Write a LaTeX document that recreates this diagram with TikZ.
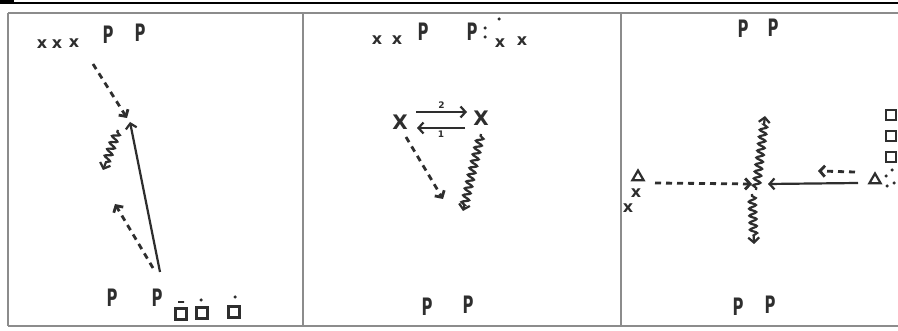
\documentclass[tikz,border=0pt]{standalone}
\usepackage{fontspec}
\setmainfont{DejaVu Sans}
\usetikzlibrary{arrows.meta,decorations.pathmorphing,shapes.geometric}
\definecolor{ink}{HTML}{2E2E2E}
\definecolor{framec}{HTML}{8C8C8C}
\tikzset{
  pl/.style={font=\fontsize{24}{24}\selectfont\bfseries, text=ink, inner sep=0pt, xscale=0.62},
  xm/.style={font=\fontsize{16}{16}\selectfont\bfseries, text=ink, inner sep=0pt},
  bigx/.style={font=\fontsize{20}{20}\selectfont\bfseries, text=ink, inner sep=0pt},
  num/.style={font=\fontsize{9}{9}\selectfont\bfseries, text=ink, inner sep=1pt},
  tri/.style={regular polygon, regular polygon sides=3, draw=ink, line width=2.2pt, minimum size=13pt, inner sep=0pt},
  sq/.style={rectangle, draw=ink, line width=2.2pt, minimum size=11pt, inner sep=0pt},
  dot/.style={circle, fill=ink, minimum size=3.5pt, inner sep=0pt},
  tip/.style={-{Straight Barb[length=5pt,width=11pt]}},
  solidarr/.style={draw=ink, line width=2.2pt, tip},
  dasharr/.style={draw=ink, line width=2.8pt, dash pattern=on 6pt off 5pt, tip},
  wavyarr/.style={draw=ink, line width=2.2pt, tip, decorate,
     decoration={snake, amplitude=3.5pt, segment length=7pt, pre length=2pt, post length=6pt}},
  frameline/.style={draw=framec, line width=1.8pt}
}
\begin{document}
\begin{tikzpicture}[x=1pt,y=-1pt]
\useasboundingbox (0,0) rectangle (898,331);
\fill[white] (0,0) rectangle (898,331);
% top black bar and frame
\draw[line width=2.6pt, black] (0,3) -- (898,3);
\fill[black] (0,0) rectangle (14,4.5);
\draw[frameline] (8,13) -- (898,13);
\draw[frameline] (8,13) -- (8,326);
\draw[frameline] (303,13) -- (303,326);
\draw[frameline] (621,13) -- (621,326);
\draw[frameline] (8,326) -- (898,326);

% ---------- panel 1 ----------
\node[xm] (x1a) at (42,44) {x};
\node[xm] (x1b) at (57,44) {x};
\node[xm] (x1c) at (74,43) {x};
\node[pl] (p1a) at (108,35) {P};
\node[pl] (p1b) at (140,33) {P};
\node[pl] (p1c) at (112,298) {P};
\node[pl] (p1d) at (157,298) {P};
\node[sq] (s1a) at (181,314) {};
\node[sq] (s1b) at (202,313) {};
\node[sq] (s1c) at (234,312) {};
\node[draw=ink, line width=2pt, minimum width=6pt, minimum height=0pt, inner sep=0pt] (d1a) at (181,302) {};
\node[dot] (d1b) at (201,300) {};
\node[dot] (d1c) at (235,297) {};
\coordinate (a1s) at (93,64);
\coordinate (a1e) at (127,118);
\coordinate (b1s) at (160,272);
\coordinate (b1e) at (130,122);
\coordinate (w1s) at (118,130);
\coordinate (w1e) at (103,170);
\coordinate (c1s) at (153,268);
\coordinate (c1e) at (115,204);
\draw[dasharr] (a1s) -- (a1e);
\draw[solidarr] (b1s) -- (b1e);
\draw[wavyarr] (w1s) -- (w1e);
\draw[dasharr] (c1s) -- (c1e);

% ---------- panel 2 ----------
\node[xm] (x2a) at (377,40) {x};
\node[xm] (x2b) at (397,40) {x};
\node[pl] (p2a) at (423,32) {P};
\node[pl] (p2b) at (472,32) {P};
\node[dot] (q2a) at (485,28) {};
\node[dot] (q2b) at (485,37) {};
\node[dot] (q2c) at (499,19) {};
\node[xm] (x2c) at (500,43) {x};
\node[xm] (x2d) at (522,41) {x};
\node[bigx] (X2L) at (400,122) {X};
\node[bigx] (X2R) at (481,118) {X};
\coordinate (t2s) at (416,112);
\coordinate (t2e) at (467,112);
\coordinate (u2s) at (465,128);
\coordinate (u2e) at (417,128);
\draw[solidarr] (t2s) -- node[num, above=1pt] (n2) {2} (t2e);
\draw[solidarr] (u2s) -- node[num, below=1pt] (n1) {1} (u2e);
\coordinate (a2s) at (406,137);
\coordinate (a2e) at (443,199);
\coordinate (w2s) at (481,134);
\coordinate (w2e) at (463,211);
\draw[dasharr] (a2s) -- (a2e);
\draw[wavyarr] (w2s) -- (w2e);
\node[pl] (p2c) at (427,307) {P};
\node[pl] (p2d) at (468,305) {P};

% ---------- panel 3 ----------
\node[pl] (p3a) at (743,29) {P};
\node[pl] (p3b) at (773,28) {P};
\node[pl] (p3c) at (738,307) {P};
\node[pl] (p3d) at (770,305) {P};
\node[tri] (tL) at (638,177) {};
\node[xm] (x3a) at (636,193) {x};
\node[xm] (x3b) at (628,208) {x};
\node[tri] (tR) at (875,180) {};
\node[dot] (r3a) at (886,176) {};
\node[dot] (r3b) at (887,186) {};
\node[dot] (r3c) at (892,170) {};
\node[dot] (r3d) at (894,183) {};
\node[sq, minimum size=10pt] (s3a) at (891,115) {};
\node[sq, minimum size=10pt] (s3b) at (891,136) {};
\node[sq, minimum size=10pt] (s3c) at (891,157) {};
\coordinate (j3) at (757,185);
\coordinate (h3s) at (655,183);
\coordinate (h3e) at (752,184);
\coordinate (g3s) at (858,183);
\coordinate (g3e) at (768,184);
\coordinate (k3s) at (855,172);
\coordinate (k3e) at (818,171);
\coordinate (v3s) at (756,190);
\coordinate (v3e) at (765,116);
\coordinate (z3s) at (752,194);
\coordinate (z3e) at (754,244);
\draw[dasharr] (h3s) -- (h3e);
\draw[solidarr] (g3s) -- (g3e);
\draw[dasharr] (k3s) -- (k3e);
\draw[wavyarr] (v3s) -- (v3e);
\draw[wavyarr] (z3s) -- (z3e);
\end{tikzpicture}
\end{document}
